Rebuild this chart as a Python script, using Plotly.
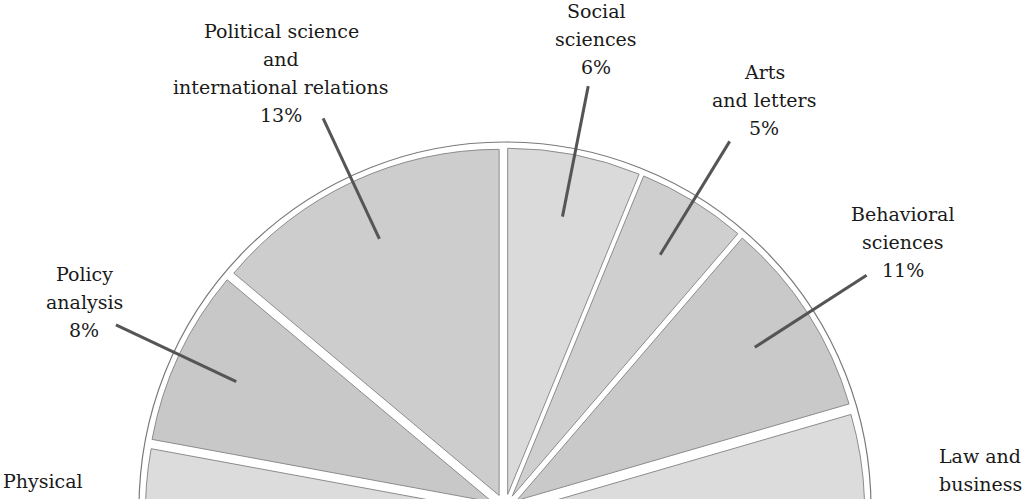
import math
import plotly.graph_objects as go

# ---------------- data ----------------
categories = ["Social sciences", "Arts and letters", "Behavioral sciences", "Law and business",
              "Other fields", "Physical sciences", "Policy analysis",
              "Political science and international relations"]
values = [6.2, 5.1, 9.2, 16.0, 27.6, 13.8, 8.2, 13.9]
label_lines = [["Social", "sciences", "6%"], ["Arts", "and letters", "5%"],
               ["Behavioral", "sciences", "11%"], ["Law and", "business"], [],
               ["Physical"], ["Policy", "analysis", "8%"],
               ["Political science", "and", "international relations", "13%"]]
has_leader = [True, True, True, False, False, False, True, True]
slice_colors = ["#dadada", "#cfcfcf", "#c9c9c9", "#dcdcdc", "#d4d4d4", "#dcdcdc", "#c8c8c8", "#cdcdcd"]
# label block centres (pixels in the figure)
label_px = [(596, 39), (764, 100), (903, 242), (980, 470), (0, 0), (43, 481), (84, 302), (281, 73)]

# ---------------- geometry ----------------
W, H = 1024, 1016
CX, CY = 505, 508
R_PIE = 360      # outer extent of pulled slices
R_RING = 366     # thin outer circle
R_IN, R_OUT = 297, 430   # leader line ends
PULL = 0.04
LINE_GAP = 27.8
FONT = "DejaVu Serif"

def px_to_paper(x, y):
    return x / W, 1 - y / H

fig = go.Figure()
fig.add_trace(go.Pie(
    labels=categories, values=values, sort=False, direction="clockwise", rotation=0,
    pull=[PULL] * len(values), textinfo="none", hoverinfo="label+percent",
    marker=dict(colors=slice_colors, line=dict(color="#8c8c8c", width=1)),
    domain=dict(x=[(CX - R_PIE) / W, (CX + R_PIE) / W],
                y=[1 - (CY + R_PIE) / H, 1 - (CY - R_PIE) / H]),
    showlegend=False,
))

shapes = [dict(type="circle", xref="paper", yref="paper", layer="below",
               x0=(CX - R_RING) / W, x1=(CX + R_RING) / W,
               y0=1 - (CY + R_RING) / H, y1=1 - (CY - R_RING) / H,
               line=dict(color="#7a7a7a", width=1.2), fillcolor="rgba(0,0,0,0)")]

total = sum(values)
cum = 0.0
annotations = []
for v, lines, lead, (lx, ly) in zip(values, label_lines, has_leader, label_px):
    mid = (cum + v / 2) / total
    cum += v
    ang = math.radians(90 - 360 * mid)
    if lead:
        x0, y0 = px_to_paper(CX + R_IN * math.cos(ang), CY - R_IN * math.sin(ang))
        x1, y1 = px_to_paper(CX + R_OUT * math.cos(ang), CY - R_OUT * math.sin(ang))
        shapes.append(dict(type="line", xref="paper", yref="paper", x0=x0, y0=y0, x1=x1, y1=y1,
                           line=dict(color="#555555", width=3)))
    n = len(lines)
    for i, line in enumerate(lines):
        ax, ay = px_to_paper(lx, ly + (i - (n - 1) / 2) * LINE_GAP)
        annotations.append(dict(text=line, x=ax, y=ay, xref="paper", yref="paper",
                                xanchor="center", yanchor="middle", showarrow=False,
                                font=dict(family=FONT, size=19, color="#1a1a1a")))

fig.update_layout(width=W, height=H, margin=dict(l=0, r=0, t=0, b=0),
                  paper_bgcolor="white", plot_bgcolor="white",
                  font=dict(family=FONT),
                  shapes=shapes, annotations=annotations)

fig.write_html("out.html", post_script=(
    "document.body.style.margin='0';document.body.style.overflow='hidden';"
    "document.documentElement.style.overflow='hidden';"))
